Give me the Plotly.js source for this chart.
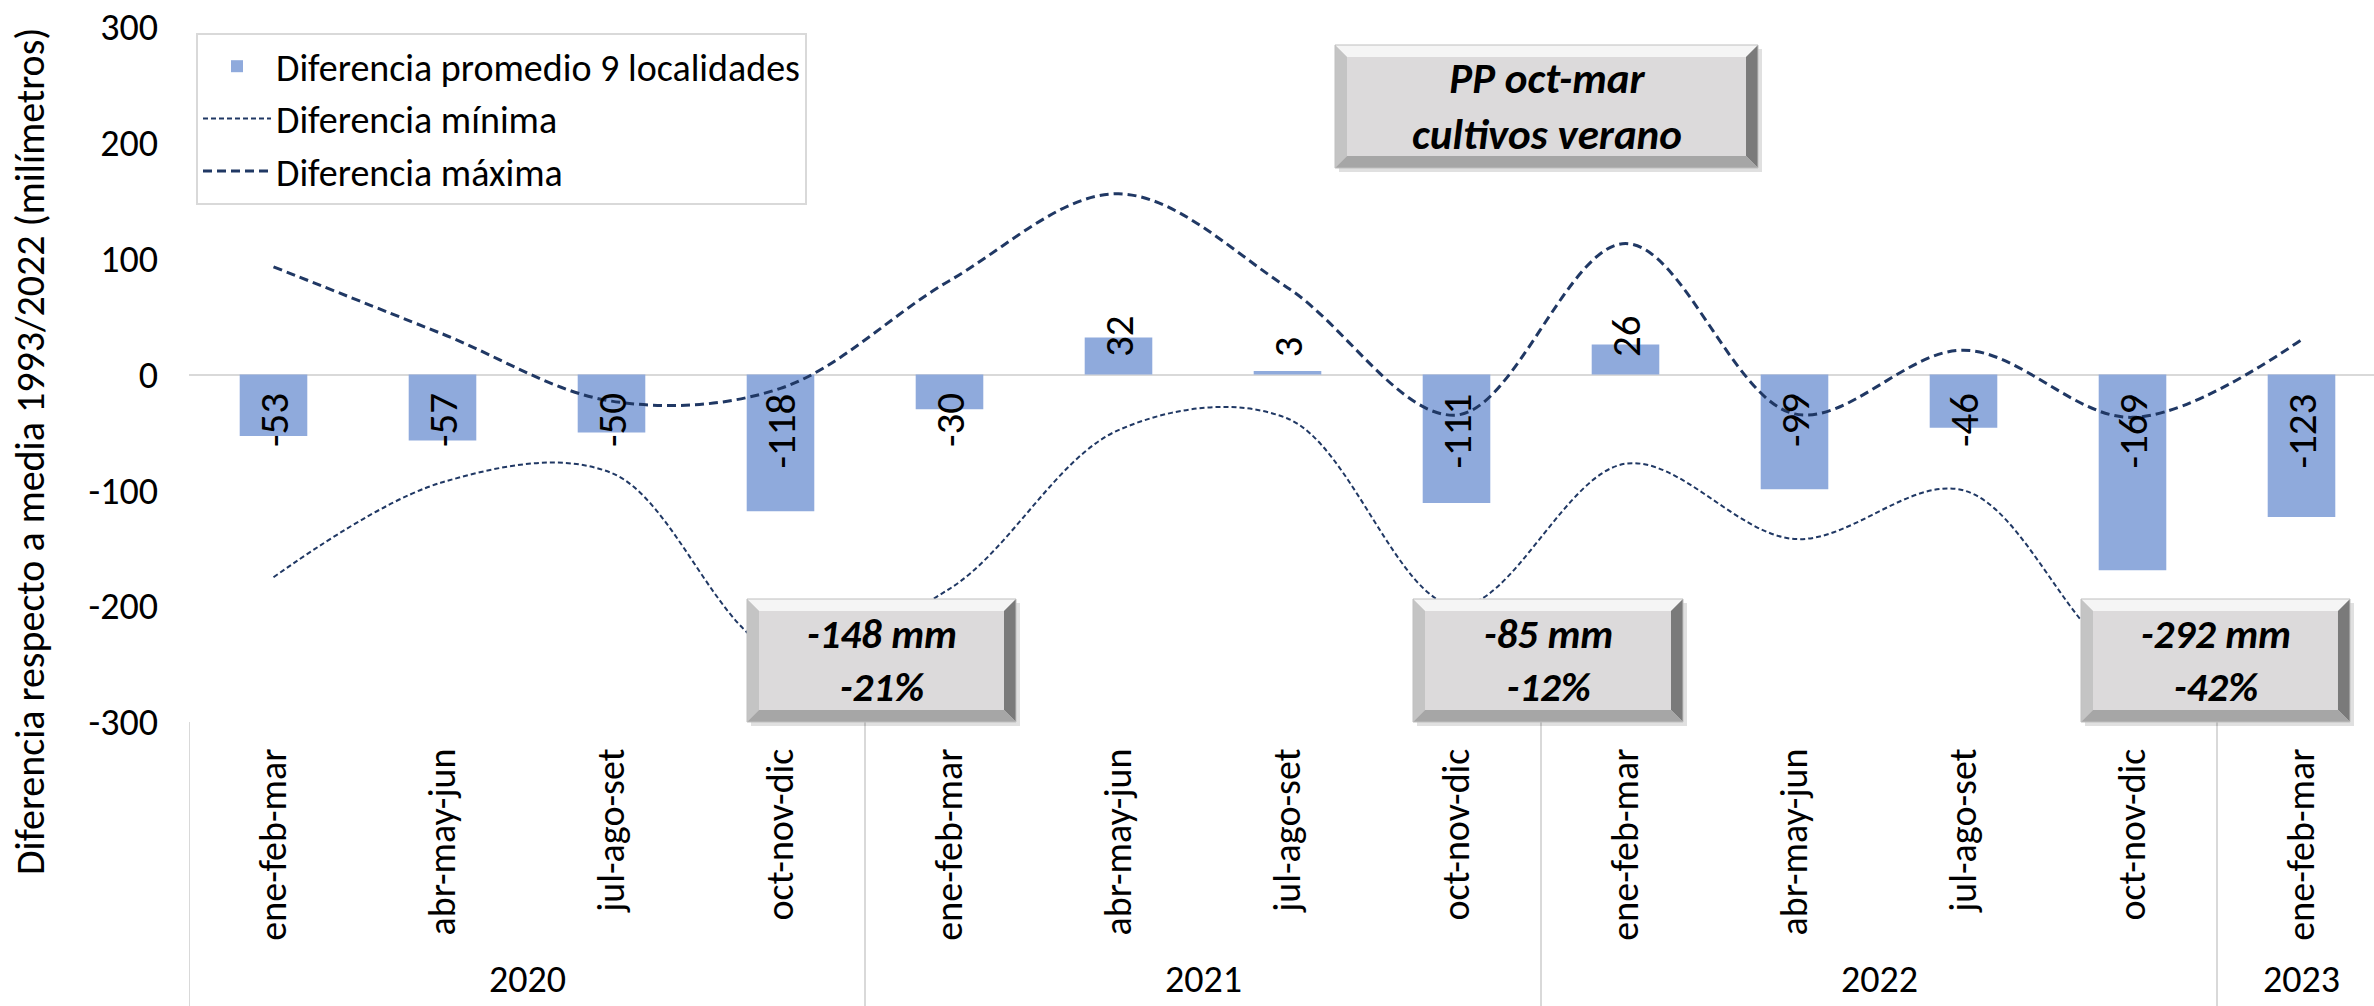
<!DOCTYPE html>
<html>
<head>
<meta charset="utf-8">
<script src="https://cdn.plot.ly/plotly-3.0.1.min.js"></script>
<style>html,body{margin:0;padding:0;background:#fff;}#chart{width:2374px;height:1006px;}</style>
</head>
<body>
<div id="chart"></div>
<script>
// ---- data ----
const categories = ['ene-feb-mar','abr-may-jun','jul-ago-set','oct-nov-dic',
                    'ene-feb-mar','abr-may-jun','jul-ago-set','oct-nov-dic',
                    'ene-feb-mar','abr-may-jun','jul-ago-set','oct-nov-dic',
                    'ene-feb-mar'];
const years = ['2020','2021','2022','2023'];
const yearSpan = [4,4,4,1];
const promedio = [-53,-57,-50,-118,-30,32,3,-111,26,-99,-46,-169,-123];
const minima = [-175,-93,-85,-240,-185,-48,-38,-200,-77,-142,-100,-250,-240];
const maxima = [93,35,-23,-12,81,156,75,-35,113,-34,21,-37,30];
const yTickVals = [-300,-200,-100,0,100,200,300];
const yTickText = ['-300','-200','-100','0','100','200','300'];
const seriesNames = ['Diferencia promedio 9 localidades','Diferencia mínima','Diferencia máxima'];
const yTitle = 'Diferencia respecto a media 1993/2022 (milímetros)';
const titleLines = ['PP oct-mar','cultivos verano'];
const boxMm = ['-148 mm','-85 mm','-292 mm'];
const boxPct = ['-21%','-12%','-42%'];

// ---- geometry helpers ----
const W = 2374, H = 1006;
const M = {l:189, r:0, t:27, b:284};
const PW = W - M.l - M.r, PH = H - M.t - M.b;
const px2x = p => (p - M.l) / PW;
const px2y = p => (H - M.b - p) / PH;
const FONT = 'Carlito, Lato, "Open Sans", sans-serif';
const FS = 38;
const xs = categories.map((_, i) => i);

function bevelBox(x0, y0, x1, y1, b) {
  const X = px2x, Y = px2y;
  const path = pts => 'M' + pts.map(p => X(p[0]).toFixed(5) + ',' + Y(p[1]).toFixed(5)).join(' L') + ' Z';
  const base = {xref:'paper', yref:'paper', layer:'above', line:{width:0}};
  return [
    Object.assign({}, base, {type:'rect', x0:X(x0+4), y0:Y(y0+4), x1:X(x1+4), y1:Y(y1+4), fillcolor:'rgba(0,0,0,0.12)'}),
    Object.assign({}, base, {type:'rect', x0:X(x0), y0:Y(y0), x1:X(x1), y1:Y(y1), fillcolor:'#DCDADB'}),
    Object.assign({}, base, {type:'path', path:path([[x0,y0],[x1,y0],[x1-b,y0+b],[x0+b,y0+b]]), fillcolor:'#F5F5F5'}),
    Object.assign({}, base, {type:'path', path:path([[x0,y0],[x0+b,y0+b],[x0+b,y1-b],[x0,y1]]), fillcolor:'#C4C4C4'}),
    Object.assign({}, base, {type:'path', path:path([[x1,y0],[x1,y1],[x1-b,y1-b],[x1-b,y0+b]]), fillcolor:'#7A7A7A'}),
    Object.assign({}, base, {type:'path', path:path([[x0,y1],[x0+b,y1-b],[x1-b,y1-b],[x1,y1]]), fillcolor:'#A6A6A6'}),
    Object.assign({}, base, {type:'rect', x0:X(x0), y0:Y(y0), x1:X(x1), y1:Y(y1), fillcolor:'rgba(0,0,0,0)', line:{color:'#BFBFBF', width:1}})
  ];
}

// ---- traces ----
const traces = [
  {type:'bar', x:xs, y:promedio, name:seriesNames[0], width:0.4,
   marker:{color:'#8FAADC'}, legendgroup:'a', hoverinfo:'y'},
  {type:'scatter', mode:'lines', x:xs, y:minima, name:seriesNames[1], legendgroup:'b',
   line:{color:'#203864', width:2, dash:'5px,3px', shape:'spline', smoothing:1}},
  {type:'scatter', mode:'lines', x:xs, y:maxima, name:seriesNames[2], legendgroup:'c',
   line:{color:'#203864', width:3, dash:'9px,5px', shape:'spline', smoothing:1}}
];

// ---- shapes ----
const shapes = [];
let start = 0;
const dividerX = [-0.5];
yearSpan.forEach(n => { start += n; if (start < categories.length) dividerX.push(start - 0.5); });
dividerX.forEach(x => shapes.push({type:'line', xref:'x', yref:'paper', x0:x, x1:x, y0:0, y1:-M.b/PH,
  line:{color:'#D9D9D9', width:2}, layer:'below'}));
const boxes = [[747,599,1016,722],[1413,599,1683,722],[2081,599,2350,722]];
boxes.forEach(b => shapes.push(...bevelBox(b[0], b[1], b[2], b[3], 12)));
const titleBox = [1335,45,1758,168];
shapes.push(...bevelBox(titleBox[0], titleBox[1], titleBox[2], titleBox[3], 12));

// ---- annotations ----
const annotations = [];
promedio.forEach((v, i) => {
  annotations.push({x:i, y:0, xref:'x', yref:'y', text:String(v), showarrow:false, textangle:-90,
    font:{family:FONT, size:41, color:'#000'},
    yanchor: v < 0 ? 'top' : 'bottom', yshift: v < 0 ? -17 : 15, xanchor:'center'});
});
start = 0;
years.forEach((yr, k) => {
  const c = start + (yearSpan[k] - 1) / 2;
  start += yearSpan[k];
  annotations.push({x:c, y:px2y(979), xref:'x', yref:'paper', text:yr, showarrow:false,
    font:{family:FONT, size:FS, color:'#000'}, xanchor:'center', yanchor:'middle'});
});
annotations.push({x:px2x(30), y:px2y(452), xref:'paper', yref:'paper', text:yTitle, showarrow:false,
  textangle:-90, font:{family:FONT, size:40, color:'#000'}, xanchor:'center', yanchor:'middle'});
boxes.forEach((b, k) => {
  annotations.push({x:px2x((b[0]+b[2])/2), y:px2y((b[1]+b[3])/2), xref:'paper', yref:'paper',
    text:'<b><i>' + boxMm[k] + '<br>' + boxPct[k] + '</i></b>', showarrow:false,
    font:{family:FONT, size:41, color:'#000'}, xanchor:'center', yanchor:'middle'});
});
annotations.push({x:px2x((titleBox[0]+titleBox[2])/2), y:px2y((titleBox[1]+titleBox[3])/2), xref:'paper', yref:'paper',
  text:'<b><i>' + titleLines.join('<br>') + '</i></b>', showarrow:false,
  font:{family:FONT, size:43, color:'#000'}, xanchor:'center', yanchor:'middle'});

const layout = {
  width:W, height:H, margin:M, paper_bgcolor:'#fff', plot_bgcolor:'#fff',
  font:{family:FONT, size:FS, color:'#000'},
  showlegend:true,
  legend:{x:px2x(196), y:px2y(33), xanchor:'left', yanchor:'top', bgcolor:'#fff',
    bordercolor:'#D9D9D9', borderwidth:2, font:{family:FONT, size:FS, color:'#000'},
    itemwidth:68, tracegroupgap:16, traceorder:'normal'},
  xaxis:{range:[-0.5, -0.5 + PW/169], tickmode:'array', tickvals:xs, ticktext:categories,
    tickangle:-90, showgrid:false, zeroline:false, showline:false, ticks:'',
    tickfont:{family:FONT, size:FS, color:'#000'}, automargin:false, ticklabelstandoff:18, fixedrange:true},
  yaxis:{range:[-300,300], tickmode:'array', tickvals:yTickVals, ticktext:yTickText,
    showgrid:false, zeroline:true, zerolinecolor:'#D9D9D9',
    zerolinewidth:2, showline:false, ticks:'', tickfont:{family:FONT, size:FS, color:'#000'},
    automargin:false, ticklabelstandoff:30, fixedrange:true},
  bargap:0.6,
  shapes:shapes, annotations:annotations
};

Plotly.newPlot('chart', traces, layout, {displayModeBar:false, staticPlot:true});
</script>
</body>
</html>
